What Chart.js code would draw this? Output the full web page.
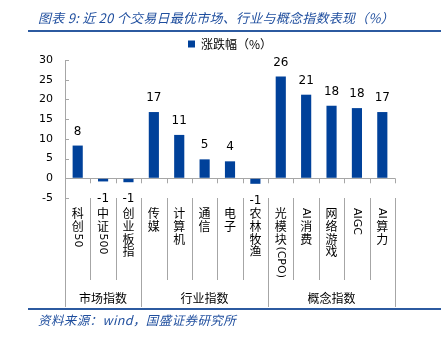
<!DOCTYPE html>
<html>
<head>
<meta charset="utf-8">
<script src="https://cdn.jsdelivr.net/npm/chart.js@4/dist/chart.umd.min.js"></script>
<style>
  html, body { margin: 0; padding: 0; background: #fff; }
  #wrap { position: relative; width: 441px; height: 337px; overflow: hidden; }
  #c { position: absolute; left: 0; top: 0; }
  .title {
    position: absolute; left: 38px; top: 8px; line-height: 16px; letter-spacing: 0.25px;
    font: italic 13px "Noto Sans CJK SC", sans-serif; color: #1f4e9e; white-space: nowrap;
  }
  .rule { position: absolute; left: 28px; right: 0; height: 2px; background: #2c5aa0; }
  .src {
    position: absolute; left: 38px; top: 310px; line-height: 14px; letter-spacing: 0.4px;
    font: italic 12.5px "Noto Sans CJK SC", sans-serif; color: #1f4e9e; white-space: nowrap;
  }
</style>
</head>
<body>
<div id="wrap">
  <canvas id="c" width="441" height="337"></canvas>
  <div class="title">图表 9: 近 20 个交易日最优市场、行业与概念指数表现（%）</div>
  <div class="rule" style="top:30px"></div>
  <div class="rule" style="top:308px"></div>
  <div class="src">资料来源：wind，国盛证券研究所</div>
</div>
<script>
// data
const categories = ['科创50', '中证500', '创业板指', '传媒', '计算机', '通信', '电子', '农林牧渔',
  '光模块(CPO)', 'AI消费', '网络游戏', 'AIGC', 'AI算力'];
const changes = [8.3, -0.8, -1.0, 16.8, 11.0, 4.8, 4.3, -1.4, 25.8, 21.2, 18.4, 17.8, 16.8];
const groupNames = ['市场指数', '行业指数', '概念指数'];
const groupSizes = [3, 5, 5];
const yTicks = [-5, 0, 5, 10, 15, 20, 25, 30];

const BLUE = '#00419a';
const AXIS = '#a6a6a6';
const CJK = '"Noto Sans CJK SC", sans-serif';
const LATIN = '"DejaVu Sans", Verdana, sans-serif';

function drawVertical(ctx, text, x, y) {
  const runs = text.match(/[\u3000-\u9fff\uff00-\uffef]|[^\u3000-\u9fff\uff00-\uffef]+/g);
  runs.forEach((run) => {
    if (/[\u3000-\u9fff\uff00-\uffef]/.test(run)) {
      ctx.font = '12px ' + CJK;
      ctx.textAlign = 'center';
      ctx.textBaseline = 'middle';
      ctx.fillText(run, x, y + 6.5);
      y += 12.8;
    } else {
      ctx.font = '11px ' + LATIN;
      ctx.save();
      ctx.translate(x, y + 1);
      ctx.rotate(Math.PI / 2);
      ctx.textAlign = 'left';
      ctx.textBaseline = 'middle';
      ctx.fillText(run, 0, 0);
      const w = ctx.measureText(run).width;
      ctx.restore();
      y += w + 2;
    }
  });
}

function line(ctx, x1, y1, x2, y2) {
  ctx.beginPath();
  ctx.moveTo(x1, y1);
  ctx.lineTo(x2, y2);
  ctx.stroke();
}

const annotate = {
  id: 'annotate',
  afterDatasetsDraw(chart) {
    const ctx = chart.ctx;
    const meta = chart.getDatasetMeta(0);
    ctx.save();
    ctx.fillStyle = '#000';
    ctx.font = '12px ' + LATIN;
    ctx.textAlign = 'center';
    ctx.textBaseline = 'middle';
    meta.data.forEach((bar, i) => {
      const v = changes[i];
      const txt = String(Math.round(v));
      if (v >= 0) ctx.fillText(txt, bar.x, bar.y - 14);
      else ctx.fillText(txt, bar.x, bar.y + 17);
    });
    ctx.restore();
  },
  afterDraw(chart) {
    const ctx = chart.ctx;
    const { x, y } = chart.scales;
    const area = chart.chartArea;
    const n = categories.length;
    const y0 = y.getPixelForValue(0);
    ctx.save();
    ctx.strokeStyle = AXIS;
    ctx.lineWidth = 1;

    // ticks pointing into the plot on the value axis
    y.ticks.forEach((t) => {
      const py = Math.round(y.getPixelForValue(t.value)) + 0.5;
      line(ctx, x.left, py, x.left + 4, py);
    });

    // group edges
    const edges = [0];
    groupSizes.reduce((acc, s) => { edges.push(acc + s); return acc + s; }, 0);

    for (let k = 0; k <= n; k++) {
      const bx = Math.round(x.getPixelForValue(k - 0.5)) + 0.5;
      line(ctx, bx, y0, bx, y0 + 5);
      const len = edges.includes(k) ? 109 : 82;
      line(ctx, bx, area.bottom, bx, area.bottom + len);
    }

    ctx.fillStyle = '#000';
    categories.forEach((c, i) => {
      drawVertical(ctx, c, x.getPixelForValue(i), area.bottom + 9);
    });

    ctx.font = '12px ' + CJK;
    ctx.textAlign = 'center';
    ctx.textBaseline = 'middle';
    groupNames.forEach((g, i) => {
      const cx = (x.getPixelForValue(edges[i] - 0.5) + x.getPixelForValue(edges[i + 1] - 0.5)) / 2;
      ctx.fillText(g, cx, area.bottom + 100);
    });
    ctx.restore();
  },
};

new Chart(document.getElementById('c'), {
  type: 'bar',
  plugins: [annotate],
  data: {
    labels: categories,
    datasets: [
      {
        label: '涨跌幅（%）',
        data: changes,
        backgroundColor: BLUE,
        barPercentage: 0.4,
        categoryPercentage: 1,
      },
    ],
  },
  options: {
    responsive: false,
    animation: false,
    layout: { padding: { top: 33, right: 46, bottom: 0, left: 0 } },
    plugins: {
      legend: {
        display: true,
        position: 'top',
        fullSize: false,
        labels: {
          boxWidth: 7,
          boxHeight: 7,
          padding: 5,
          color: '#000',
          font: { size: 12, family: CJK },
        },
      },
      tooltip: { enabled: false },
    },
    scales: {
      x: {
        ticks: { display: false },
        grid: { display: false },
        border: { display: false },
        afterFit: (s) => { s.height = 139; },
      },
      y: {
        min: -5,
        max: 30,
        afterBuildTicks: (s) => { s.ticks = yTicks.map((v) => ({ value: v })); },
        ticks: {
          padding: 12,
          color: '#000',
          font: { size: 11, family: LATIN },
        },
        grid: {
          drawTicks: false,
          color: (c) => (c.tick && c.tick.value === 0 ? AXIS : 'rgba(0,0,0,0)'),
        },
        border: { display: true, color: AXIS },
        afterFit: (s) => { s.width = 65; },
      },
    },
  },
});
</script>
</body>
</html>
